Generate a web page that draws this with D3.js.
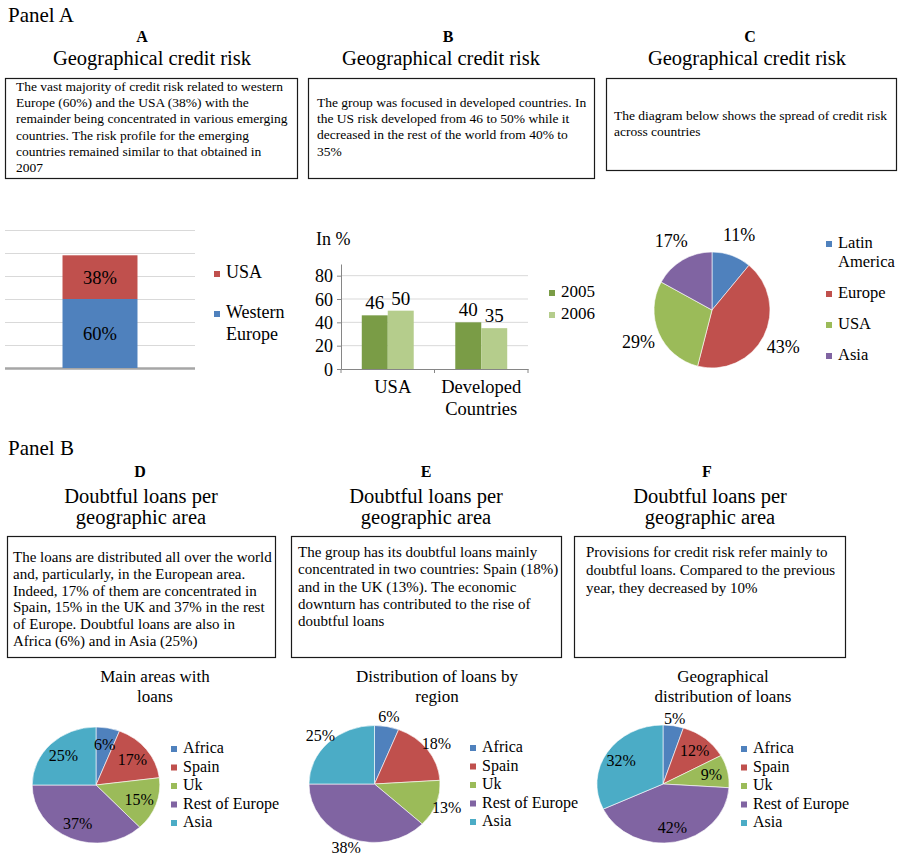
<!DOCTYPE html>
<html>
<head>
<meta charset="utf-8">
<script src="https://cdn.jsdelivr.net/npm/d3@7"></script>
<style>
  body { margin: 0; background: #fff; }
  svg, svg text { font-family: "Liberation Serif", "Times New Roman", serif; fill: #000; }
</style>
</head>
<body>
<div id="chart"></div>
<script>
// ---------- data ----------
const panelNames = ['Panel A', 'Panel B'];
const letters = ['A', 'B', 'C', 'D', 'E', 'F'];
const headingA = ['Geographical credit risk'];
const headingB = ['Doubtful loans per', 'geographic area'];

const noteA = [
  'The vast majority of credit risk related to western',
  'Europe (60%) and the USA (38%) with the',
  'remainder being concentrated in various emerging',
  'countries. The risk profile for the emerging',
  'countries remained similar to that obtained in',
  '2007'
];
const noteB = [
  'The group was focused in developed countries. In',
  'the US risk developed from 46 to 50% while it',
  'decreased in the rest of the world from 40% to',
  '35%'
];
const noteC = [
  'The diagram below shows the spread of credit risk',
  'across countries'
];
const noteD = [
  'The loans are distributed all over the world',
  'and, particularly, in the European area.',
  'Indeed, 17% of them are concentrated in',
  'Spain, 15% in the UK and 37% in the rest',
  'of Europe. Doubtful loans are also in',
  'Africa (6%) and in Asia (25%)'
];
const noteE = [
  'The group has its doubtful loans mainly',
  'concentrated in two countries: Spain (18%)',
  'and in the UK (13%). The economic',
  'downturn has contributed to the rise of',
  'doubtful loans'
];
const noteF = [
  'Provisions for credit risk refer mainly to',
  'doubtful loans. Compared to the previous',
  'year, they decreased by 10%'
];

// chart A: stacked column
const stackSeries = ['Western Europe', 'USA'];
const stackValues = [60, 38];
const stackTicks = [0, 20, 40, 60, 80, 100, 120];

// chart B: grouped column
const barGroups = ['USA', 'Developed Countries'];
const barYears = ['2005', '2006'];
const bars2005 = [46, 40];
const bars2006 = [50, 35];
const barTicks = [0, 20, 40, 60, 80];
const barUnit = 'In %';

// chart C: pie
const riskRegions = ['Latin America', 'Europe', 'USA', 'Asia'];
const riskShares = [11, 43, 29, 17];

// charts D, E, F: pies
const loanAreas = ['Africa', 'Spain', 'Uk', 'Rest of Europe', 'Asia'];
const loansD = [6, 17, 15, 37, 25];
const loansE = [6, 18, 13, 38, 25];
const loansF = [5, 12, 9, 42, 32];
const pieTitleD = ['Main areas with', 'loans'];
const pieTitleE = ['Distribution of loans by', 'region'];
const pieTitleF = ['Geographical', 'distribution of loans'];

const officeColors = ['#4f81bd', '#c0504d', '#9bbb59', '#8064a2', '#4bacc6'];
const serif = '"Liberation Serif", "Times New Roman", serif';

// ---------- drawing ----------
const svg = d3.select('#chart').append('svg')
  .attr('width', 898)
  .attr('height', 855)
  .attr('font-family', serif);

function drawLines(x, y, lines, size, lineH, anchor) {
  lines.forEach((l, i) => {
    svg.append('text')
      .attr('x', x)
      .attr('y', y + i * lineH)
      .attr('font-size', size)
      .attr('font-family', serif)
      .attr('text-anchor', anchor || 'start')
      .text(l);
  });
}

function drawHeading(letter, lines, letterX, titleX, letterY, titleY) {
  svg.append('text')
    .attr('x', letterX).attr('y', letterY)
    .attr('text-anchor', 'middle')
    .attr('font-weight', 'bold')
    .attr('font-size', 16)
    .text(letter);
  drawLines(titleX, titleY, lines, 20.5, 20.5, 'middle');
}

function drawNote(box, lines, size, firstY, lineH) {
  svg.append('rect')
    .attr('x', box.x + 0.5).attr('y', box.y + 0.5)
    .attr('width', box.w).attr('height', box.h)
    .attr('fill', 'none')
    .attr('stroke', '#1a1a1a')
    .attr('stroke-width', 1.2);
  drawLines(box.x + box.pad, firstY, lines, size, lineH);
}

function drawLegend(x, y, names, colors, size, lineH, gap, split) {
  let cy = y;
  names.forEach((n, i) => {
    const parts = split ? n.split(' ') : [n];
    svg.append('rect')
      .attr('x', x).attr('y', cy - 7)
      .attr('width', 6).attr('height', 6)
      .attr('fill', colors[i]);
    drawLines(x + 12, cy, parts, size, lineH);
    cy += parts.length * lineH + gap;
  });
}

// panel labels
svg.append('text').attr('x', 8).attr('y', 22).attr('font-size', 21).text(panelNames[0]);
svg.append('text').attr('x', 8).attr('y', 455).attr('font-size', 21).text(panelNames[1]);

// headings
drawHeading(letters[0], headingA, 142, 152, 42, 65);
drawHeading(letters[1], headingA, 448, 441, 42, 65);
drawHeading(letters[2], headingA, 750, 747, 42, 65);
drawHeading(letters[3], headingB, 140, 141, 477, 503);
drawHeading(letters[4], headingB, 426, 426, 477, 503);
drawHeading(letters[5], headingB, 707, 710, 477, 503);

// notes
drawNote({ x: 5, y: 78, w: 292, h: 100, pad: 11 }, noteA, 13.5, 91, 16.2);
drawNote({ x: 308, y: 78, w: 286, h: 100, pad: 9 }, noteB, 13.5, 107, 16.2);
drawNote({ x: 606, y: 78, w: 290, h: 92, pad: 8 }, noteC, 13.5, 120, 15.5);
drawNote({ x: 7, y: 536, w: 268, h: 121, pad: 6 }, noteD, 15, 562, 16.8);
drawNote({ x: 291, y: 536, w: 270, h: 121, pad: 7 }, noteE, 15, 557, 17.3);
drawNote({ x: 574, y: 536, w: 271, h: 121, pad: 12 }, noteF, 15, 557, 17.8);

// ----- chart A: stacked column -----
(function () {
  const left = 5, right = 195;
  const y = d3.scaleLinear().domain([0, 120]).range([368, 230]);
  const x = d3.scaleBand().domain(['total']).range([left, right]).paddingOuter(0.767);

  const grid = svg.append('g')
    .attr('transform', `translate(${left},0)`)
    .call(d3.axisLeft(y).tickValues(stackTicks).tickSize(-(right - left)).tickFormat(''));
  grid.select('.domain').remove();
  grid.selectAll('.tick line')
    .attr('stroke', d => d === 0 ? '#a6a6a6' : '#d9d9d9')
    .attr('stroke-width', d => d === 0 ? 2.5 : 1);

  const row = {};
  stackSeries.forEach((s, i) => { row[s] = stackValues[i]; });
  const stacked = d3.stack().keys(stackSeries)([row]);

  const seg = svg.append('g').selectAll('g').data(stacked).join('g');
  seg.append('rect')
    .attr('x', x('total'))
    .attr('width', x.bandwidth())
    .attr('y', d => y(d[0][1]))
    .attr('height', d => y(d[0][0]) - y(d[0][1]))
    .attr('fill', (d, i) => officeColors[i === 0 ? 0 : 1]);
  seg.append('text')
    .attr('x', x('total') + x.bandwidth() / 2)
    .attr('y', d => (y(d[0][0]) + y(d[0][1])) / 2)
    .attr('dy', '0.35em')
    .attr('text-anchor', 'middle')
    .attr('font-size', 18.5)
    .text((d, i) => stackValues[i] + '%');

  drawLegend(214, 278, stackSeries.slice().reverse(), [officeColors[1], officeColors[0]], 18, 22, 18, true);
})();

// ----- chart B: grouped column -----
(function () {
  const left = 341, right = 528;
  const x = d3.scaleBand().domain(barGroups).range([left, right]);
  const xi = d3.scaleBand().domain(barYears).range([0, x.bandwidth()]).paddingOuter(0.8);
  const y = d3.scaleLinear().domain([0, 90]).range([369, 264]);
  const series = [bars2005, bars2006];
  const colors = ['#7a9c46', '#b5cd8c'];

  svg.append('text').attr('x', 316).attr('y', 245).attr('font-size', 18).text(barUnit);

  svg.append('g').selectAll('line')
    .data(barTicks.filter(t => t > 0))
    .join('line')
    .attr('x1', left).attr('x2', right)
    .attr('y1', d => y(d)).attr('y2', d => y(d))
    .attr('stroke', '#d9d9d9');

  const yAxis = svg.append('g')
    .attr('transform', `translate(${left},0)`)
    .call(d3.axisLeft(y).tickValues(barTicks).tickSize(4).tickSizeOuter(0).tickPadding(4));
  yAxis.attr('font-family', serif).attr('font-size', 18);
  yAxis.selectAll('path, line').attr('stroke', '#868686');
  yAxis.selectAll('text').attr('dy', '0.35em');

  const xAxis = svg.append('g')
    .attr('transform', `translate(0,${y(0)})`)
    .call(d3.axisBottom(x).tickSize(0).tickFormat(''));
  xAxis.select('.domain').attr('stroke', '#868686');
  xAxis.selectAll('.tick').remove();
  xAxis.selectAll('line.bound')
    .data(barGroups.map(g => x(g)).concat([right]))
    .join('line')
    .attr('class', 'bound')
    .attr('x1', d => d).attr('x2', d => d)
    .attr('y1', 0).attr('y2', 4)
    .attr('stroke', '#868686');

  barGroups.forEach((g, gi) => {
    drawLines(x(g) + x.bandwidth() / 2 + (gi === 0 ? 5 : 0), 393, g.split(' '), 18.5, 22, 'middle');
  });

  const groups = svg.append('g').selectAll('g').data(barYears).join('g')
    .attr('fill', (d, i) => colors[i]);
  groups.selectAll('rect')
    .data((yr, si) => barGroups.map((g, gi) => ({ g, yr, v: series[si][gi] })))
    .join('rect')
    .attr('x', d => x(d.g) + xi(d.yr))
    .attr('width', xi.bandwidth())
    .attr('y', d => y(d.v))
    .attr('height', d => y(0) - y(d.v));
  groups.selectAll('text')
    .data((yr, si) => barGroups.map((g, gi) => ({ g, yr, v: series[si][gi] })))
    .join('text')
    .attr('x', d => x(d.g) + xi(d.yr) + xi.bandwidth() / 2)
    .attr('y', d => y(d.v) - 6)
    .attr('text-anchor', 'middle')
    .attr('font-size', 19)
    .attr('fill', '#000')
    .text(d => d.v);

  drawLegend(549, 297, barYears, colors, 17, 22, 0, false);
})();

// ----- pies -----
function drawPie(cfg) {
  const g = svg.append('g').attr('transform', `translate(${cfg.cx},${cfg.cy})`);
  const arcs = d3.pie().sort(null).value(d => d.value)(
    cfg.names.map((n, i) => ({ name: n, value: cfg.values[i] }))
  );
  const arc = d3.arc().innerRadius(0).outerRadius(cfg.r);

  g.append('g')
    .attr('transform', `scale(${cfg.sx},1)`)
    .selectAll('path')
    .data(arcs)
    .join('path')
    .attr('d', arc)
    .attr('fill', (d, i) => officeColors[i])
    .attr('stroke', '#ffffff')
    .attr('stroke-width', 0.6)
    .attr('vector-effect', 'non-scaling-stroke');

  g.selectAll('text')
    .data(arcs)
    .join('text')
    .attr('transform', d => {
      const k = d.data.value < cfg.threshold ? cfg.outK : cfg.inK;
      const la = d3.arc().innerRadius(cfg.r * k).outerRadius(cfg.r * k);
      const c = la.centroid(d);
      return `translate(${c[0] * cfg.sx},${c[1]})`;
    })
    .attr('dy', '0.35em')
    .attr('text-anchor', 'middle')
    .attr('font-size', cfg.labelSize)
    .text(d => d.data.value + '%');
}

// chart C
drawPie({ cx: 712, cy: 310, r: 58, sx: 1.0, values: riskShares, names: riskRegions,
  threshold: 100, inK: 0.7, outK: 1.38, labelSize: 18 });
drawLegend(826, 248, riskRegions, officeColors, 16.5, 19, 12, true);

// charts D, E, F
drawLines(155, 682, pieTitleD, 17, 19.5, 'middle');
drawPie({ cx: 96, cy: 785, r: 58, sx: 1.10, values: loansD, names: loanAreas,
  threshold: 0, inK: 0.72, outK: 1.2, labelSize: 16 });
drawLegend(171, 753, loanAreas, officeColors, 16, 18.5, 0, false);

drawLines(437, 682, pieTitleE, 17, 19.5, 'middle');
drawPie({ cx: 374.5, cy: 784, r: 58.5, sx: 1.12, values: loansE, names: loanAreas,
  threshold: 100, inK: 0.72, outK: 1.17, labelSize: 16 });
drawLegend(470, 752, loanAreas, officeColors, 16, 18.5, 0, false);

drawLines(723, 682, pieTitleF, 17, 19.5, 'middle');
drawPie({ cx: 663, cy: 784, r: 59, sx: 1.12, values: loansF, names: loanAreas,
  threshold: 6, inK: 0.75, outK: 1.12, labelSize: 16 });
drawLegend(741, 753, loanAreas, officeColors, 16, 18.5, 0, false);
</script>
</body>
</html>
